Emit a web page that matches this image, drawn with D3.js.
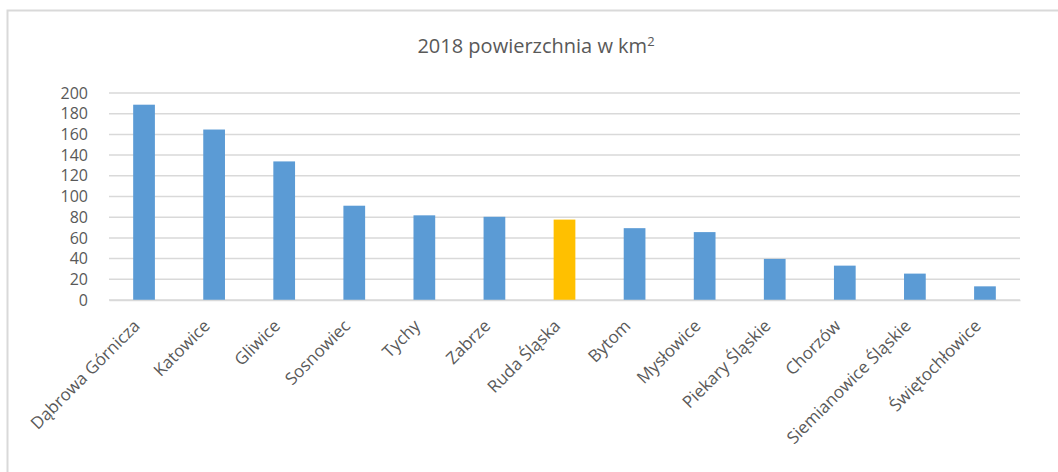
<!DOCTYPE html>
<html>
<head>
<meta charset="utf-8">
<script src="https://cdn.jsdelivr.net/npm/d3@7"></script>
<style>
  body { margin: 0; background: #fff; }
  svg { display: block; font-family: "Open Sans", sans-serif; }
</style>
</head>
<body>
<div id="chart"></div>
<script>
// Data
const cities = ["Dąbrowa Górnicza", "Katowice", "Gliwice", "Sosnowiec", "Tychy", "Zabrze",
  "Ruda Śląska", "Bytom", "Mysłowice", "Piekary Śląskie", "Chorzów",
  "Siemianowice Śląskie", "Świętochłowice"];
const area = [188.7, 164.7, 133.9, 91.1, 81.8, 80.4, 77.7, 69.4, 65.6, 39.7, 33.2, 25.5, 13.2];
const highlight = "Ruda Śląska";
const yTicks = [0, 20, 40, 60, 80, 100, 120, 140, 160, 180, 200];

const W = 1058, H = 472;
const margin = {top: 93, right: 38, bottom: 172, left: 109};
const width = W - margin.left - margin.right,
      height = H - margin.top - margin.bottom;

const svg = d3.select("#chart").append("svg")
  .attr("width", W)
  .attr("height", H);

// chart border (only top and left visible)
svg.append("path")
  .attr("d", "M7.5," + H + "V10.5H" + W)
  .attr("fill", "none")
  .attr("stroke", "#d9d9d9")
  .attr("stroke-width", 2);

// Title
const title = svg.append("text")
  .attr("x", 536)
  .attr("y", 53)
  .attr("text-anchor", "middle")
  .attr("font-size", 20)
  .attr("fill", "#595959");
title.append("tspan").text("2018 powierzchnia w km");
title.append("tspan").attr("dy", -7).attr("font-size", 13).text("2");

const g = svg.append("g")
  .attr("transform", "translate(" + margin.left + "," + margin.top + ")");

const x = d3.scaleBand()
  .domain(cities)
  .range([0, width])
  .paddingInner(0.69)
  .paddingOuter(0.345);

const y = d3.scaleLinear()
  .domain([0, 200])
  .range([height, 0]);

// gridlines
g.selectAll(".grid")
  .data(yTicks)
  .enter()
  .append("line")
    .attr("class", "grid")
    .attr("x1", 0)
    .attr("x2", width)
    .attr("y1", d => y(d))
    .attr("y2", d => y(d))
    .attr("stroke", "#d9d9d9")
    .attr("stroke-width", 1.5);

// Y axis
const yAxis = g.append("g")
  .call(d3.axisLeft(y).tickValues(yTicks).tickSize(0).tickPadding(21));
yAxis.select(".domain").remove();
yAxis.selectAll("text")
  .attr("font-size", 16)
  .attr("font-family", "Open Sans, sans-serif")
  .attr("fill", "#595959");

// bars
g.selectAll(".bar")
  .data(cities)
  .enter()
  .append("rect")
    .attr("class", "bar")
    .attr("x", d => x(d))
    .attr("y", (d, i) => y(area[i]))
    .attr("width", x.bandwidth())
    .attr("height", (d, i) => height - y(area[i]))
    .attr("fill", d => d === highlight ? "#ffc000" : "#5b9bd5");

// X axis
const xAxis = g.append("g")
  .attr("transform", "translate(0," + height + ")")
  .call(d3.axisBottom(x).tickSize(0).tickPadding(0));
xAxis.select(".domain").attr("stroke", "#d9d9d9").attr("stroke-width", 1.5);
xAxis.selectAll("text")
  .attr("font-size", 17)
  .attr("font-family", "Open Sans, sans-serif")
  .attr("fill", "#595959")
  .attr("text-anchor", "end")
  .attr("dy", 0)
  .attr("transform", "translate(-3,27) rotate(-45)");
</script>
</body>
</html>
